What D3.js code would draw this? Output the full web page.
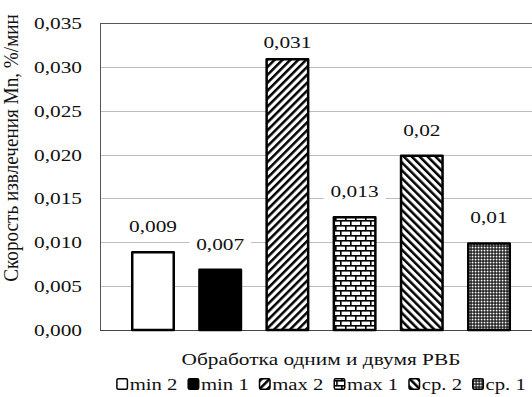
<!DOCTYPE html>
<html>
<head>
<meta charset="utf-8">
<script src="https://cdn.jsdelivr.net/npm/d3@7"></script>
<style>
  html, body { margin: 0; padding: 0; background: #fff; }
  svg { display: block; }
</style>
</head>
<body>
<svg id="chart" width="532" height="397"></svg>
<script>
// ---- data ----
const seriesNames = ["min 2", "min 1", "max 2", "max 1", "ср. 2", "ср. 1"];
const seriesValues = [0.009, 0.007, 0.031, 0.013, 0.020, 0.010];
const valueLabels = ["0,009", "0,007", "0,031", "0,013", "0,02", "0,01"];
const yTicks = [0, 0.005, 0.010, 0.015, 0.020, 0.025, 0.030, 0.035];
const yTickLabels = ["0,000", "0,005", "0,010", "0,015", "0,020", "0,025", "0,030", "0,035"];
const categoryTitle = "Обработка одним и двумя РВБ";
const yTitle = "Скорость извлечения Mn, %/мин";
const fills = ["white", "black", "url(#pFwd)", "url(#pBrick)", "url(#pBack)", "url(#pCheck)"];

// ---- layout ----
const FONT = "'Liberation Serif', 'Tinos', 'DejaVu Serif', 'Times New Roman', serif";
const plot = { left: 100, right: 542, top: 23, bottom: 330 };
const SX = 1.22;      // horizontal stretch of the text in the reference
const FS = 17.5;

const svg = d3.select("#chart").attr("font-family", FONT);
const defs = svg.append("defs");

// patterns
const pf = defs.append("pattern").attr("id", "pFwd").attr("patternUnits", "userSpaceOnUse")
  .attr("width", 5.6).attr("height", 5.6).attr("patternTransform", "rotate(45)");
pf.append("rect").attr("width", 5.6).attr("height", 5.6).attr("fill", "white");
pf.append("rect").attr("x", 0).attr("width", 2.5).attr("height", 5.6).attr("fill", "black");

const pb = defs.append("pattern").attr("id", "pBack").attr("patternUnits", "userSpaceOnUse")
  .attr("width", 5.6).attr("height", 5.6).attr("patternTransform", "rotate(-45)");
pb.append("rect").attr("width", 5.6).attr("height", 5.6).attr("fill", "white");
pb.append("rect").attr("x", 0).attr("width", 2.5).attr("height", 5.6).attr("fill", "black");

const pk = defs.append("pattern").attr("id", "pBrick").attr("patternUnits", "userSpaceOnUse")
  .attr("width", 10).attr("height", 10);
pk.append("rect").attr("width", 10).attr("height", 10).attr("fill", "white");
pk.append("rect").attr("x", 0).attr("y", 0).attr("width", 10).attr("height", 1.6).attr("fill", "black");
pk.append("rect").attr("x", 0).attr("y", 5).attr("width", 10).attr("height", 1.6).attr("fill", "black");
pk.append("rect").attr("x", 0).attr("y", 0).attr("width", 1.6).attr("height", 5).attr("fill", "black");
pk.append("rect").attr("x", 5).attr("y", 5).attr("width", 1.6).attr("height", 5).attr("fill", "black");

const pc = defs.append("pattern").attr("id", "pCheck").attr("patternUnits", "userSpaceOnUse")
  .attr("width", 3).attr("height", 3);
pc.append("rect").attr("width", 3).attr("height", 3).attr("fill", "black");
pc.append("rect").attr("x", 0.6).attr("y", 0.6).attr("width", 1.9).attr("height", 1.9).attr("fill", "white");

// scales
const y = d3.scaleLinear().domain([0, 0.035]).range([plot.bottom, plot.top]);
const x = d3.scaleBand().domain(seriesNames).range([plot.left, plot.right])
  .paddingInner(0.345).paddingOuter(0.461);

// helper for stretched text
function stretchedText(g, tx, ty, str, anchor, size) {
  return g.append("text")
    .attr("transform", `translate(${tx},${ty}) scale(${SX},1)`)
    .attr("text-anchor", anchor)
    .attr("font-family", FONT)
    .attr("font-size", size || FS)
    .attr("fill", "#111")
    .text(str);
}

// gridlines
const grid = svg.append("g");
grid.selectAll("line").data(yTicks.filter(t => t > 0 && t < 0.035)).join("line")
  .attr("x1", plot.left).attr("x2", plot.right)
  .attr("y1", d => Math.round(y(d)) + 0.5).attr("y2", d => Math.round(y(d)) + 0.5)
  .attr("stroke", "#bdbdbd").attr("stroke-width", 1);

// plot border (left, top)
svg.append("line").attr("x1", plot.left + 0.5).attr("x2", plot.left + 0.5)
  .attr("y1", plot.top).attr("y2", plot.bottom).attr("stroke", "#555").attr("stroke-width", 1);
svg.append("line").attr("x1", plot.left).attr("x2", plot.right)
  .attr("y1", Math.round(y(0.035)) + 0.5).attr("y2", Math.round(y(0.035)) + 0.5)
  .attr("stroke", "#555").attr("stroke-width", 1);
// bottom axis line
svg.append("line").attr("x1", plot.left).attr("x2", plot.right)
  .attr("y1", Math.round(y(0)) + 0.5).attr("y2", Math.round(y(0)) + 0.5)
  .attr("stroke", "#444").attr("stroke-width", 1);

// y tick labels
const yl = svg.append("g");
yTicks.forEach((t, i) => {
  stretchedText(yl, 82, y(t) + 6, yTickLabels[i], "end");
});

// bars
const bars = svg.append("g");
bars.selectAll("rect").data(seriesValues).join("rect")
  .attr("x", (d, i) => x(seriesNames[i]) + 1.25)
  .attr("width", x.bandwidth() - 2.5)
  .attr("y", d => y(d) + 1.25)
  .attr("height", d => y(0) - y(d) - 1.25)
  .attr("fill", (d, i) => fills[i])
  .attr("stroke", "black").attr("stroke-width", 2.5)
  .attr("stroke-linejoin", "round");

// value labels with white boxes (kept inside the plot area)
const lg = svg.append("g");
seriesValues.forEach((v, i) => {
  const cx = x(seriesNames[i]) + x.bandwidth() / 2;
  const by = Math.max(y(v) - 19, plot.top + 25);
  const box = lg.append("rect").attr("fill", "white");
  const t = stretchedText(lg, cx, by, valueLabels[i], "middle");
  const w = t.node().getComputedTextLength() * SX;
  box.attr("x", cx - w / 2 - 7).attr("width", w + 14)
     .attr("y", by - 23).attr("height", 27);
});

// y title
svg.append("text")
  .attr("transform", `translate(18,148) rotate(-90) scale(1,1.12)`)
  .attr("text-anchor", "middle")
  .attr("font-family", FONT)
  .attr("font-size", 19.2)
  .attr("fill", "#111")
  .text(yTitle);

// x title
stretchedText(svg, 321, 365, categoryTitle, "middle");

// legend
const leg = svg.append("g");
const sw = 12, gapSw = 1.5, gapItem = 10, LFS = 17;
let cursor = 0;
seriesNames.forEach((name, i) => {
  const g = leg.append("g");
  g.append("rect").attr("x", cursor + 0.75).attr("y", 378.75).attr("width", sw - 1.5).attr("height", sw - 1.5)
    .attr("fill", fills[i]).attr("stroke", "black").attr("stroke-width", 1.5).attr("rx", 1.5);
  const t = stretchedText(g, cursor + sw + gapSw, 390, name, "start", LFS);
  const w = t.node().getComputedTextLength() * SX;
  cursor += sw + gapSw + w + gapItem;
});
const total = cursor - gapItem;
leg.attr("transform", `translate(${Math.min(321 - total / 2, 530 - total)},0)`);
</script>
</body>
</html>
